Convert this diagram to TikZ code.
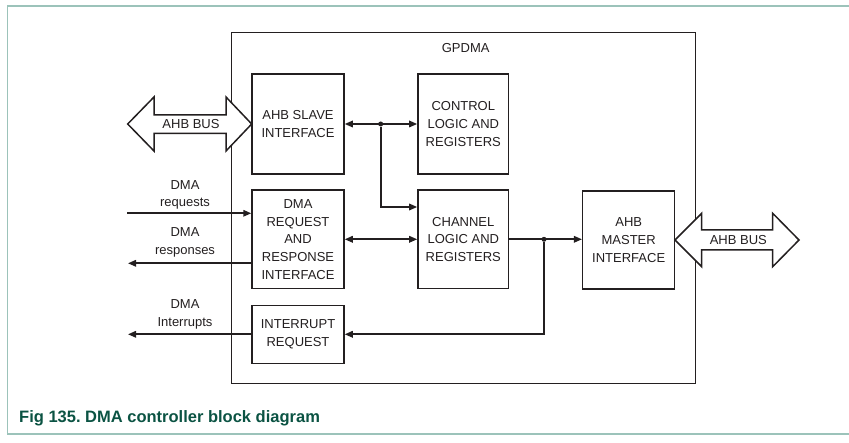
\documentclass[tikz,border=0pt]{standalone}
\usepackage{fontspec}
\setmainfont{Liberation Sans}
\usepackage{tikz}
\usetikzlibrary{arrows.meta,positioning,calc}
\definecolor{nxpframe}{HTML}{9CC3BA}
\definecolor{nxpcaption}{HTML}{0B5343}
\definecolor{nxpline}{HTML}{231F20}
\frenchspacing

\begin{document}
\begin{tikzpicture}[
      x=1pt,y=-1pt,
      font=\fontsize{13}{17.7}\selectfont,
      text=nxpline,
      box/.style={draw=nxpline,line width=1.5pt,align=center,inner sep=0pt,fill=white},
      arrow/.style={-{Triangle[length=8pt,width=6.5pt]},line width=1.6pt,draw=nxpline},
      biarrow/.style={{Triangle[length=8pt,width=6.5pt]}-{Triangle[length=8pt,width=6.5pt]},line width=1.6pt,draw=nxpline},
      bus/.style={draw=nxpline,line width=1.5pt,fill=white,line join=miter},
      note/.style={align=center,inner sep=0pt},
      dot/.style={circle,fill=nxpline,inner sep=0pt,minimum size=5pt}
    ]
    \useasboundingbox (0,0) rectangle (849,443);
    \draw[nxpframe,line width=1.2pt] (849,6) -- (7.5,6) -- (7.5,434) -- (849,434);
    \node[anchor=base west,font=\fontsize{16.5}{20}\selectfont\bfseries,text=nxpcaption,inner sep=0pt] (caption) at (19,423) {Fig 135. DMA controller block diagram};

    \draw[draw=nxpline,line width=1.5pt] (231.5,32.5) rectangle (695.3,383.7);
    \node[note] (gpdma) at (465.7,48) {GPDMA};

    \node[box,minimum width=92pt,minimum height=100pt] (slave) at (298,124) {AHB SLAVE\\INTERFACE};
    \node[box,minimum width=90.7pt,minimum height=100pt] (ctrl) at (463.3,124) {CONTROL\\LOGIC AND\\REGISTERS};
    \node[box,minimum width=92pt,minimum height=98.7pt] (dmareq) at (298,239.3) {DMA\\REQUEST\\AND\\RESPONSE\\INTERFACE};
    \node[box,minimum width=90.7pt,minimum height=98.7pt] (chan) at (463.3,239.3) {CHANNEL\\LOGIC AND\\REGISTERS};
    \node[box,minimum width=92pt,minimum height=58pt] (irq) at (298,334.3) {INTERRUPT\\REQUEST};
    \node[box,minimum width=92pt,minimum height=98pt] (master) at (628.7,240) {AHB\\MASTER\\INTERFACE};

    \draw[bus] (127.7,124) -- (154,97) -- (154,115) -- (226,115) -- (226,97) -- (251.7,124)
      -- (226,151) -- (226,133.3) -- (154,133.3) -- (154,151) -- cycle;
    \node[note] (slavebus) at (191,124) {AHB BUS};
    \draw[bus] (675,240) -- (701.7,213.3) -- (701.7,230) -- (772.7,230) -- (772.7,213.3) -- (799,240)
      -- (772.7,266.7) -- (772.7,250) -- (701.7,250) -- (701.7,266.7) -- cycle;
    \node[note] (masterbus) at (738.3,240) {AHB BUS};

    \draw[biarrow] (slave) -- (ctrl);
    \node[dot] (j1) at (380.7,124) {};
    \draw[arrow] (j1) |- (chan.west |- 0,207);
    \draw[biarrow] (dmareq) -- (chan);
    \draw[arrow] (chan.east) -- (master.west |- chan.east);
    \node[dot] (j2) at (544,239.3) {};
    \draw[arrow] (j2) |- (irq.east);

    \coordinate (reqin) at (127,213.3);
    \coordinate (respout) at (128,263.3);
    \coordinate (irqout) at (128,334.3);
    \draw[arrow] (reqin) -- (dmareq.west |- reqin);
    \draw[arrow] (dmareq.west |- respout) -- (respout);
    \draw[arrow] (irq.west) -- (irqout);
    \node[note] (reqlabel) at (185,195) {DMA\\requests};
    \node[note] (resplabel) at (185,242.5) {DMA\\responses};
    \node[note] (irqlabel) at (185,314.5) {DMA\\Interrupts};
  \end{tikzpicture}
\end{document}
